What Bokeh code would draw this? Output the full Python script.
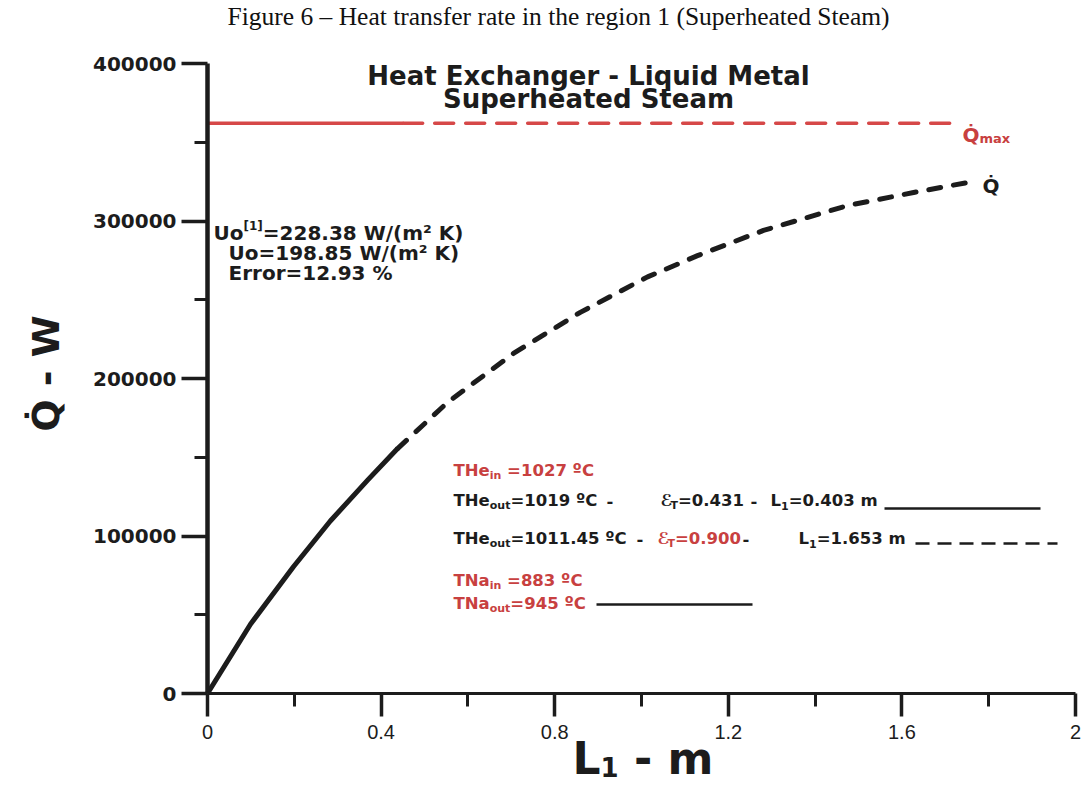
import math
from bokeh.plotting import figure
from bokeh.models import Range1d, FixedTicker, Label
from bokeh.embed import file_html
from bokeh.resources import INLINE

# ---------------- data ----------------
L_solid = [0.0, 0.099, 0.198, 0.283, 0.369, 0.438]
Q_solid = [0, 44000, 80500, 109500, 135500, 155500]
L_dash = [0.438, 0.553, 0.705, 0.859, 1.014, 1.129, 1.281, 1.475, 1.627, 1.751]
Q_dash = [155500, 184800, 215900, 242000, 264500, 278000, 294000, 309800, 318100, 324400]
Q_max = 362000
L_qmax_solid = [0.0, 0.452]
L_qmax_dash = [0.452, 1.728]

x_ticks = [0, 0.4, 0.8, 1.2, 1.6, 2]
x_tick_labels = ["0", "0.4", "0.8", "1.2", "1.6", "2"]
x_minor = [0.2, 0.6, 1.0, 1.4, 1.8]
y_ticks = [0, 100000, 200000, 300000, 400000]
y_tick_labels = ["0", "100000", "200000", "300000", "400000"]
y_minor = [50000, 150000, 250000, 350000]
x_min, x_max = 0, 2
y_min, y_max = 0, 400000

caption = "Figure 6 \u2013 Heat transfer rate in the region 1 (Superheated Steam)"
inner_title = ["Heat Exchanger - Liquid Metal", "Superheated Steam"]
x_label = ["L", "1", "\u00a0-\u00a0m"]
y_label = "Q\u0307 - W"

# ---------------- layout ----------------
W, H = 1084, 793
FL, FR, FT, FB = 207, 1075, 63, 693      # pixel box of the original axes
FW, FH = FR - FL, FB - FT
BLACK = "#1c1c1c"
RED_LINE = "#d64848"
RED_TXT = "#c84040"
NB = "\u00a0"

kx = (x_max - x_min) / FW
ky = (y_max - y_min) / FH
# the frame covers the whole canvas; axes are pinned at x=0 / y=0
p = figure(width=W, height=H,
           x_range=Range1d(x_min - FL * kx, x_max + (W - FR) * kx),
           y_range=Range1d(y_min - (H - FB) * ky, y_max + FT * ky),
           output_backend="svg", toolbar_location=None,
           min_border_left=0, min_border_right=0, min_border_top=0, min_border_bottom=0)
p.title.visible = False
p.outline_line_color = None
p.xgrid.visible = False
p.ygrid.visible = False
p.background_fill_color = "white"
p.border_fill_color = "white"

xa = p.xaxis[0]
xa.fixed_location = y_min
xa.bounds = (x_min, x_max)
xa.ticker = FixedTicker(ticks=x_ticks, minor_ticks=x_minor)
xa.major_label_overrides = {t: s for t, s in zip(x_ticks, x_tick_labels)}
xa.axis_line_width = 3
xa.axis_line_color = BLACK
xa.major_tick_line_width = 3.5
xa.major_tick_line_color = BLACK
xa.minor_tick_line_width = 3
xa.minor_tick_line_color = BLACK
xa.major_tick_in = 0
xa.major_tick_out = 23
xa.minor_tick_in = 0
xa.minor_tick_out = 13
xa.major_label_text_font = "Liberation Sans"
xa.major_label_text_font_size = "20px"
xa.major_label_text_color = BLACK
xa.major_label_standoff = 8

ya = p.yaxis[0]
ya.fixed_location = x_min
ya.bounds = (y_min, y_max)
ya.ticker = FixedTicker(ticks=y_ticks, minor_ticks=y_minor)
ya.major_label_overrides = {t: s for t, s in zip(y_ticks, y_tick_labels)}
ya.axis_line_width = 4.5
ya.axis_line_color = BLACK
ya.major_tick_line_width = 3.5
ya.major_tick_line_color = BLACK
ya.minor_tick_line_width = 3
ya.minor_tick_line_color = BLACK
ya.major_tick_in = 0
ya.major_tick_out = 26
ya.minor_tick_in = 0
ya.minor_tick_out = 13
ya.major_label_text_font = "DejaVu Sans"
ya.major_label_text_font_style = "bold"
ya.major_label_text_font_size = "20px"
ya.major_label_text_color = BLACK
ya.major_label_standoff = 5

# ---------------- curves ----------------
p.line(L_qmax_solid, [Q_max, Q_max], line_color=RED_LINE, line_width=3.5)
p.line(L_qmax_dash, [Q_max, Q_max], line_color=RED_LINE, line_width=3.5,
       line_dash="19 12", line_cap="round")
p.line(L_solid, Q_solid, line_color=BLACK, line_width=5, line_join="round")
p.line(L_dash, Q_dash, line_color=BLACK, line_width=5, line_dash="12 13",
       line_cap="round", line_join="round")

# ---------------- text helpers ----------------
DW = {' ': 348, NB: 348, '%': 1002, '(': 457, ')': 457, '-': 415, '.': 380, '/': 365,
      '=': 838, '[': 457, ']': 457, 'C': 734, 'E': 683, 'H': 837, 'K': 775, 'L': 637,
      'N': 837, 'Q': 850, 'T': 683, 'U': 812, 'W': 1030, 'a': 675, 'e': 678, 'i': 343,
      'm': 1042, 'n': 712, 'o': 687, 'r': 493, 't': 478, 'u': 712, 'x': 663,
      '\u00ba': 560, '\u00b2': 438, '\u2130': 600}
for d in "0123456789":
    DW[d] = 696

SHIFT = 7
DJ = "DejaVu Sans"


def tw(s, size):
    return sum(DW.get(c, 650) for c in s) / 1000.0 * size


def X(px):
    return x_min + (px - FL) * kx


def Y(py):
    return y_min + (FB - (py - SHIFT)) * ky


def put(px, py, parts, font=DJ, style="bold"):
    off = 0.0
    for txt, size, color, dy in parts:
        p.add_layout(Label(x=X(px), y=Y(py), x_offset=off, y_offset=dy, text=txt,
                           text_font=font, text_font_size=f"{size}px", text_font_style=style,
                           text_color=color, text_baseline="alphabetic", text_align="left"))
        off += tw(txt, size)


# caption
p.add_layout(Label(x=X(558), y=Y(23), text=caption, text_font="Liberation Serif",
                   text_font_size="25.5px", text_font_style="normal", text_color="#111111",
                   text_align="center", text_baseline="alphabetic"))

# axis titles
put(572, 765, [(x_label[0], 44, BLACK, 0), (x_label[1], 26, BLACK, -8), (x_label[2], 44, BLACK, 0)])
p.add_layout(Label(x=X(45), y=Y(373 + SHIFT), text=y_label, angle=math.pi / 2,
                   text_font=DJ, text_font_size="38px", text_font_style="bold",
                   text_color=BLACK, text_align="center", text_baseline="alphabetic"))

# inner title
for by, line in zip([82, 105], inner_title):
    p.add_layout(Label(x=X(588), y=Y(by), text=line, text_font=DJ,
                       text_font_size="26px", text_font_style="bold", text_color=BLACK,
                       text_align="center", text_baseline="alphabetic"))

# U block
put(213, 239, [("Uo", 20, BLACK, 0), ("[1]", 12, BLACK, 7), ("=228.38 W/(m\u00b2 K)", 20, BLACK, 0)])
put(228, 259, [("Uo=198.85 W/(m\u00b2 K)", 20, BLACK, 0)])
put(228, 279, [("Error=12.93 %", 20, BLACK, 0)])

# legend-like block
F, f, s1 = 16.5, 11, 11
put(453, 477, [("THe", F, RED_TXT, 0), ("in", f, RED_TXT, -5), (NB + "=1027 \u00baC", F, RED_TXT, 0)])
put(453, 507, [("THe", F, BLACK, 0), ("out", f, BLACK, -5), ("=1019 \u00baC", F, BLACK, 0)])
put(606, 507, [("-", F, BLACK, 0)])
put(660, 507, [("\u2130", F, BLACK, 0), ("T", s1, BLACK, -5), ("=0.431", F, BLACK, 0)])
put(750, 507, [("-", F, BLACK, 0)])
put(770, 507, [("L", F, BLACK, 0), ("1", s1, BLACK, -5), ("=0.403 m", F, BLACK, 0)])
put(453, 545, [("THe", F, BLACK, 0), ("out", f, BLACK, -5), ("=1011.45 \u00baC", F, BLACK, 0)])
put(636, 545, [("-", F, BLACK, 0)])
put(657, 545, [("\u2130", F, RED_TXT, 0), ("T", s1, RED_TXT, -5), ("=0.900", F, RED_TXT, 0)])
put(742, 545, [("-", F, BLACK, 0)])
put(798, 545, [("L", F, BLACK, 0), ("1", s1, BLACK, -5), ("=1.653 m", F, BLACK, 0)])
put(453, 587, [("TNa", F, RED_TXT, 0), ("in", f, RED_TXT, -5), (NB + "=883 \u00baC", F, RED_TXT, 0)])
put(453, 610, [("TNa", F, RED_TXT, 0), ("out", f, RED_TXT, -5), ("=945 \u00baC", F, RED_TXT, 0)])

# legend sample lines
p.line([X(884), X(1040)], [Y(508 + SHIFT), Y(508 + SHIFT)], line_color=BLACK, line_width=2.5)
p.line([X(915), X(1057)], [Y(543 + SHIFT), Y(543 + SHIFT)], line_color=BLACK, line_width=2.5, line_dash="14 8")
p.line([X(596), X(752)], [Y(604 + SHIFT), Y(604 + SHIFT)], line_color=BLACK, line_width=2.5)

# curve labels
put(962, 141, [("Q\u0307", 20, RED_TXT, 0)])
put(979, 145, [("max", 13, RED_TXT, 0)])
put(982, 192, [("Q\u0307", 20, BLACK, 0)])

open("out.html", "w").write(file_html(p, INLINE))
